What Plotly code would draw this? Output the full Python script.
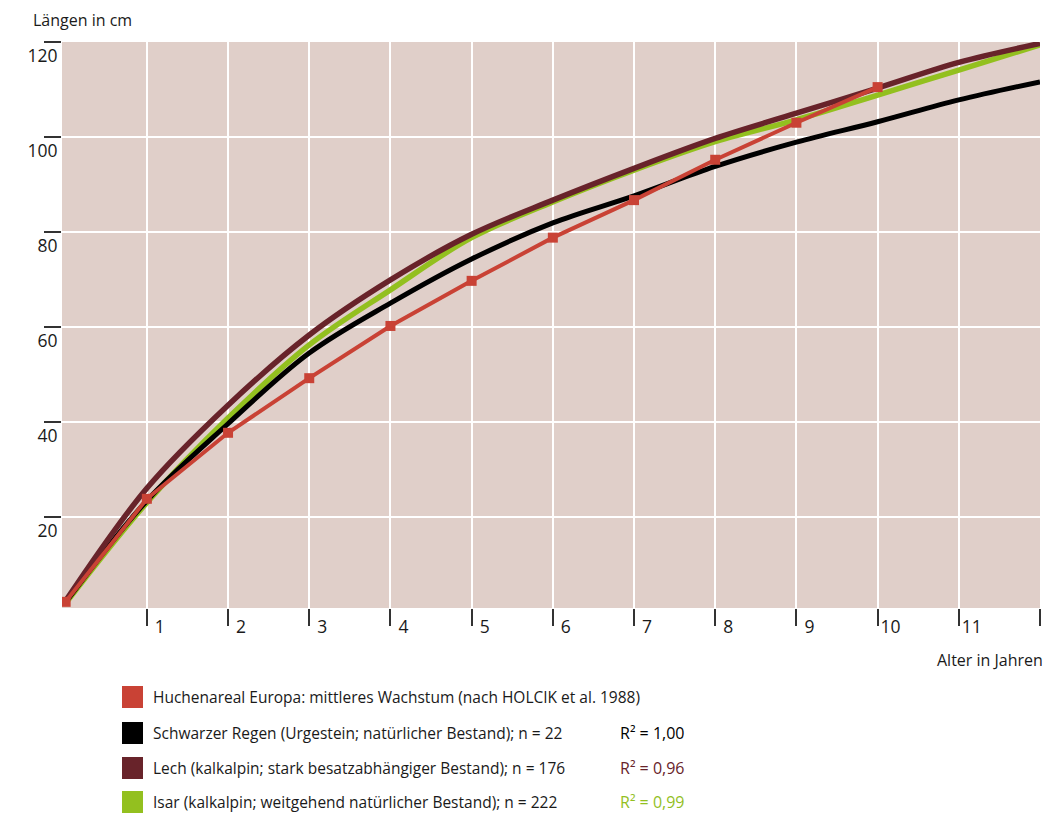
import plotly.graph_objects as go

# Wachstumskurven des Huchens: Alter (Jahre) gegen Länge (cm)
ages = list(range(0, 13))
ages_holcik = list(range(0, 11))

laenge_holcik = [2.1, 23.8, 37.7, 49.2, 60.2, 69.7, 78.8, 86.7, 95.2, 103.0, 110.5]
laenge_schwarzer_regen = [2.0, 23.4, 39.6, 54.5, 65.0, 74.3, 81.9, 87.6, 93.8, 98.9, 103.2, 107.8, 111.6]
laenge_lech = [2.3, 26.0, 43.5, 58.3, 69.9, 79.5, 86.7, 93.4, 99.7, 105.0, 110.3, 115.7, 119.7]
laenge_isar = [1.8, 23.0, 40.8, 56.2, 67.8, 78.8, 86.3, 93.0, 99.0, 103.6, 108.8, 114.1, 119.4]

x_tickvals = list(range(1, 13))
x_ticktext = [str(v) for v in range(1, 12)] + [""]
y_tickvals = [20, 40, 60, 80, 100, 120]

legend_labels = [
    "Huchenareal Europa: mittleres Wachstum (nach HOLCIK et al. 1988)",
    "Schwarzer Regen (Urgestein; natürlicher Bestand); n = 22",
    "Lech (kalkalpin; stark besatzabhängiger Bestand); n = 176",
    "Isar (kalkalpin; weitgehend natürlicher Bestand); n = 222",
]
r2_labels = ["", "R² = 1,00", "R² = 0,96", "R² = 0,99"]

RED = "#c94235"
BLACK = "#000000"
MAROON = "#68232a"
GREEN = "#93c01f"
BG = "#e0cfc9"
FONT = "Open Sans"
TEXT = "#1a1a1a"

legend_colors = [RED, BLACK, MAROON, GREEN]
r2_colors = [BLACK, BLACK, MAROON, GREEN]

fig = go.Figure()

fig.add_trace(go.Scatter(
    x=ages, y=laenge_isar, mode="lines",
    line=dict(color=GREEN, width=5.5, shape="spline", smoothing=1),
    showlegend=False, hoverinfo="skip"))
fig.add_trace(go.Scatter(
    x=ages, y=laenge_schwarzer_regen, mode="lines",
    line=dict(color=BLACK, width=5, shape="spline", smoothing=1),
    showlegend=False, hoverinfo="skip"))
fig.add_trace(go.Scatter(
    x=ages, y=laenge_lech, mode="lines",
    line=dict(color=MAROON, width=5.5, shape="spline", smoothing=1),
    showlegend=False, hoverinfo="skip"))
fig.add_trace(go.Scatter(
    x=ages_holcik, y=laenge_holcik, mode="lines+markers",
    line=dict(color=RED, width=4),
    marker=dict(symbol="square", size=10, color=RED),
    showlegend=False, hoverinfo="skip"))

# plot area in pixels: x 62..1040, y 42..608
L, R, T, B = 62, 1040, 42, 608


def px(xp):
    return (xp - L) / (R - L)


def py(yp):
    return (B - yp) / (B - T)


shapes = []
annotations = []
row_y = [697, 733, 768, 802]
for i, label in enumerate(legend_labels):
    yc = row_y[i]
    shapes.append(dict(
        type="rect", xref="paper", yref="paper",
        x0=px(122), x1=px(143), y0=py(yc + 11), y1=py(yc - 11),
        fillcolor=legend_colors[i], line=dict(width=0)))
    annotations.append(dict(
        text=label, xref="paper", yref="paper",
        x=px(151), y=py(yc), xanchor="left", yanchor="middle",
        showarrow=False, font=dict(family=FONT, size=15.5, color=TEXT)))
    if r2_labels[i]:
        annotations.append(dict(
            text=r2_labels[i], xref="paper", yref="paper",
            x=px(618), y=py(yc), xanchor="left", yanchor="middle",
            showarrow=False, font=dict(family=FONT, size=16, color=r2_colors[i])))

annotations.append(dict(
    text="Längen in cm", xref="paper", yref="paper",
    x=px(31), y=py(20), xanchor="left", yanchor="middle",
    showarrow=False, font=dict(family=FONT, size=16, color=TEXT)))
annotations.append(dict(
    text="Alter in Jahren", xref="paper", yref="paper",
    x=px(1045), y=py(660), xanchor="right", yanchor="middle",
    showarrow=False, font=dict(family=FONT, size=16, color=TEXT)))

fig.update_layout(
    width=1050, height=815,
    margin=dict(l=L, r=1050 - R, t=T, b=815 - B),
    paper_bgcolor="white", plot_bgcolor=BG,
    font=dict(family=FONT, size=16, color=TEXT),
    shapes=shapes, annotations=annotations,
    xaxis=dict(
        range=[-0.045, 12], tickvals=x_tickvals, ticktext=x_ticktext,
        showgrid=True, gridcolor="white", gridwidth=2,
        zeroline=False, showline=False,
        ticks="outside", ticklen=17, tickwidth=1.5, tickcolor="#333333",
        ticklabelshift=13, ticklabelstandoff=-14,
        tickfont=dict(family=FONT, size=17.5, color=TEXT)),
    yaxis=dict(
        range=[0.8, 120], tickvals=y_tickvals,
        showgrid=True, gridcolor="white", gridwidth=2,
        zeroline=False, showline=False,
        ticks="outside", ticklen=17, tickwidth=1.5, tickcolor="#333333",
        ticklabelshift=14, ticklabelstandoff=-17,
        tickfont=dict(family=FONT, size=17.5, color=TEXT)),
)

fig.write_html("out.html")
